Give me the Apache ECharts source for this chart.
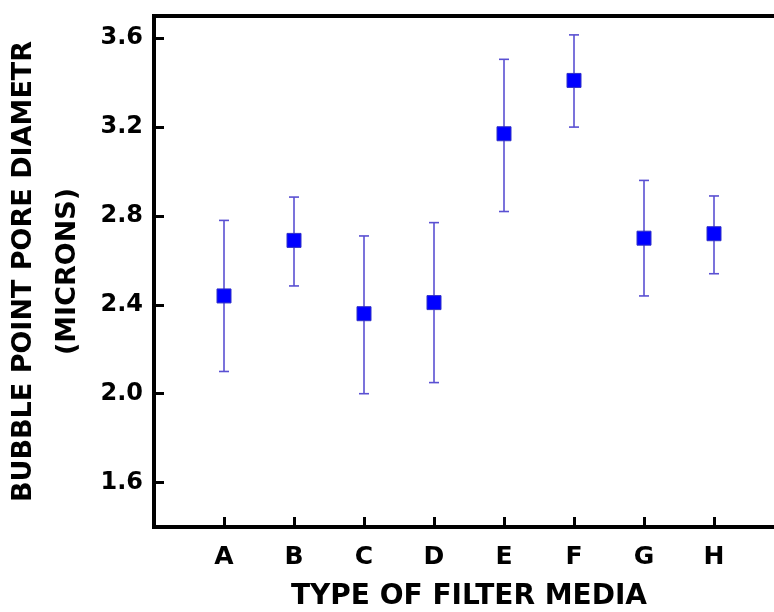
<!DOCTYPE html>
<html>
<head>
  <meta charset="UTF-8"/>
  <title></title>
  <script src="https://cdn.jsdelivr.net/npm/echarts@6/dist/echarts.min.js"></script>
  <style>
    html, body { margin: 0; padding: 0; background: #fff; }
  </style>
</head>
<body>
<div id="main" style="width: 774px;height: 612px;"></div>
<script type="text/javascript">
    // filter media types
    const categories = ['A', 'B', 'C', 'D', 'E', 'F', 'G', 'H']
    // bubble point pore diameter (microns)
    const means = [2.44, 2.69, 2.36, 2.41, 3.17, 3.41, 2.70, 2.72]
    const lows = [2.10, 2.485, 2.00, 2.05, 2.82, 3.20, 2.44, 2.54]
    const highs = [2.78, 2.885, 2.71, 2.77, 3.505, 3.615, 2.96, 2.89]
    const yTicks = [1.6, 2.0, 2.4, 2.8, 3.2, 3.6]

    // empty slots at both ends so A sits one step in from the axis
    const xData = [''].concat(categories, [''])

    const font = 'DejaVu Sans'
    const errColor = '#5a50d2'

    let myChart = echarts.init(document.getElementById('main'))
    let option = {
        animation: false,
        grid: {
            left: 154,
            top: 16,
            bottom: 85,
            right: -10,
            outerBoundsMode: 'none',
            show: true,
            borderColor: '#000',
            borderWidth: 4
        },
        xAxis: {
            type: 'category',
            data: xData,
            boundaryGap: false,
            name: 'TYPE OF FILTER MEDIA',
            nameLocation: 'middle',
            nameGap: 56,
            nameTextStyle: {
                fontFamily: font, fontWeight: 'bold', fontSize: 28, color: '#000'
            },
            axisLine: {lineStyle: {color: '#000', width: 4}},
            axisTick: {
                inside: true, length: 10, alignWithLabel: true,
                lineStyle: {color: '#000', width: 3}
            },
            axisLabel: {
                fontFamily: font, fontWeight: 'bold', fontSize: 25, color: '#000',
                margin: 18, interval: 0
            },
            splitLine: {show: false}
        },
        yAxis: {
            type: 'value',
            min: 1.4,
            max: 3.7,
            name: 'BUBBLE POINT PORE DIAMETR\n(MICRONS)',
            nameLocation: 'middle',
            nameRotate: 90,
            nameGap: 63,
            nameTextStyle: {
                fontFamily: font, fontWeight: 'bold', fontSize: 27, color: '#000',
                lineHeight: 44
            },
            axisLine: {show: true, lineStyle: {color: '#000', width: 4}},
            axisTick: {
                show: true, inside: true, length: 10,
                customValues: yTicks,
                lineStyle: {color: '#000', width: 3}
            },
            axisLabel: {
                fontFamily: font, fontWeight: 'bold', fontSize: 24, color: '#000',
                margin: 11,
                customValues: yTicks,
                formatter: function (v) { return v.toFixed(1) }
            },
            splitLine: {show: false}
        },
        series: [
            {
                // error bars
                type: 'custom',
                data: categories.map((c, i) => [c, lows[i], highs[i]]),
                renderItem: function (params, api) {
                    const x = api.value(0)
                    const lo = api.coord([x, api.value(1)])
                    const hi = api.coord([x, api.value(2)])
                    const w = 5
                    const style = {stroke: errColor, lineWidth: 1.6, fill: null}
                    return {
                        type: 'group',
                        children: [
                            {type: 'line', shape: {x1: lo[0], y1: lo[1], x2: hi[0], y2: hi[1]}, style: style},
                            {type: 'line', shape: {x1: hi[0] - w, y1: hi[1], x2: hi[0] + w, y2: hi[1]}, style: style},
                            {type: 'line', shape: {x1: lo[0] - w, y1: lo[1], x2: lo[0] + w, y2: lo[1]}, style: style}
                        ]
                    }
                },
                z: 2
            },
            {
                type: 'scatter',
                data: categories.map((c, i) => [c, means[i]]),
                symbol: 'rect',
                symbolSize: 14,
                itemStyle: {color: '#0000ff', borderColor: '#3030c8', borderWidth: 1, opacity: 1},
                z: 3
            }
        ]
    };
    myChart.setOption(option);
</script>
</body>
</html>
